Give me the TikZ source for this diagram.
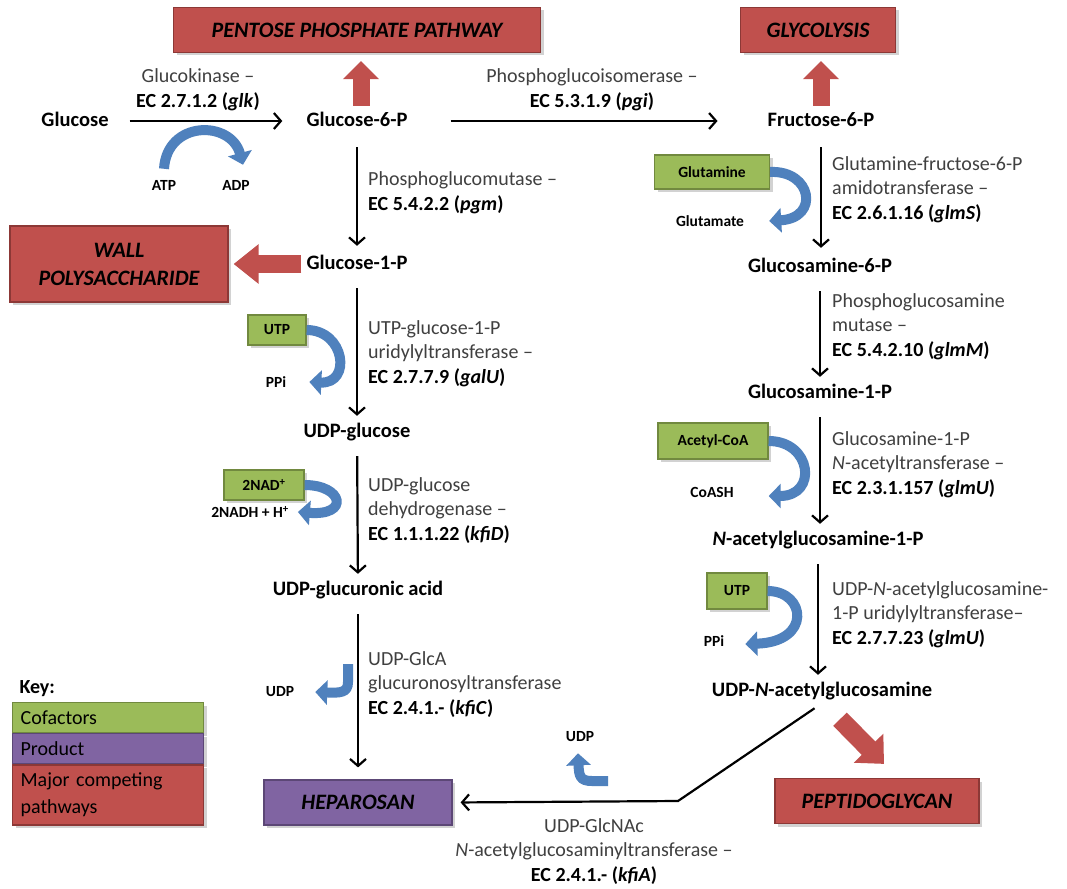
\documentclass[tikz,border=0pt]{standalone}
\usepackage{fontspec}
\setmainfont{Carlito}
\usepackage{tikz}
\usetikzlibrary{arrows.meta,shadows,calc,positioning}

\definecolor{pathred}{RGB}{192,80,77}
\definecolor{pathredline}{RGB}{140,56,54}
\definecolor{cofgreen}{RGB}{155,187,89}
\definecolor{cofgreenline}{RGB}{113,137,63}
\definecolor{prodpurple}{RGB}{128,100,162}
\definecolor{prodpurpleline}{RGB}{92,71,118}
\definecolor{flowblue}{RGB}{79,129,189}
\newcommand{\ecnum}[1]{\textbf{\color{black}#1}}

\begin{document}
\begin{tikzpicture}[x=1pt,y=-1pt,
  metab/.style={font=\fontsize{20.5}{24}\selectfont\bfseries, text height=15pt, text depth=5pt, inner sep=2pt},
  enzyme/.style={font=\fontsize{20}{24.5}\selectfont, text=black!75, align=left, inner sep=0pt, anchor=base west},
  enzymec/.style={enzyme, align=center, anchor=base},
  cofactor/.style={font=\fontsize{15.5}{18}\selectfont\bfseries, inner sep=1pt},
  boxshadow/.style={drop shadow={opacity=0.35, shadow xshift=3pt, shadow yshift=-3pt}},
  cofbox/.style={draw=cofgreenline, fill=cofgreen, line width=1.2pt, inner sep=0pt,
    font=\fontsize{15.5}{18}\selectfont\bfseries, boxshadow},
  pathbox/.style={draw=pathredline, fill=pathred, line width=1.2pt, inner sep=0pt, align=center,
    font=\fontsize{22}{28}\selectfont\bfseries\itshape, boxshadow},
  prodbox/.style={pathbox, draw=prodpurpleline, fill=prodpurple},
  keybox/.style={draw=#1line, fill=#1, line width=1.2pt, anchor=north west, inner xsep=8pt, inner ysep=0pt,
    text width=175pt, minimum width=191pt, align=left, font=\fontsize{20}{27}\selectfont, boxshadow},
  rxn/.style={-{Straight Barb[length=7pt,width=16pt]}, line width=2.2pt, shorten <=12pt, shorten >=4pt},
  bluearr/.style={draw=flowblue, line width=10pt, -{Triangle[length=12pt,width=24pt]}},
  redarr/.style={draw=pathred, line width=17pt, -{Triangle[length=18pt,width=35pt]}},
]
\useasboundingbox[fill=white] (0,0) rectangle (1067,888);

% competing pathways and product
\node[pathbox, minimum width=367pt, minimum height=45pt] (ppp) at (357,30) {PENTOSE PHOSPHATE PATHWAY};
\node[pathbox, minimum width=155pt, minimum height=45pt] (glyc) at (818,30) {GLYCOLYSIS};
\node[pathbox, minimum width=218pt, minimum height=76pt] (wall) at (119,264) {WALL\\POLYSACCHARIDE};
\node[prodbox, minimum width=188pt, minimum height=45pt] (hep) at (358,802.5) {HEPAROSAN};
\node[pathbox, minimum width=204pt, minimum height=45pt] (pepti) at (877,801) {PEPTIDOGLYCAN};

% metabolites
\node[metab] (glc) at (75,121) {Glucose};
\node[metab] (g6p) at (357,121) {Glucose-6-P};
\node[metab] (f6p) at (821,121) {Fructose-6-P};
\node[metab] (g1p) at (357,264) {Glucose-1-P};
\node[metab] (udpg) at (357,432) {UDP-glucose};
\node[metab] (udpga) at (358,590) {UDP-glucuronic acid};
\node[metab] (gn6p) at (820,267) {Glucosamine-6-P};
\node[metab] (gn1p) at (820,393) {Glucosamine-1-P};
\node[metab] (nag1p) at (818,540) {\textit{N}-acetylglucosamine-1-P};
\node[metab] (udpnag) at (822,691) {UDP-\textit{N}-acetylglucosamine};

% enzymes
\node[enzymec] (glk) at (198,107) {Glucokinase --\\\ecnum{EC 2.7.1.2 (\textit{glk})}};
\node[enzymec] (pgi) at (592,107) {Phosphoglucoisomerase --\\\ecnum{EC 5.3.1.9 (\textit{pgi})}};
\node[enzyme] (pgm) at (368,210) {Phosphoglucomutase --\\\ecnum{EC 5.4.2.2 (\textit{pgm})}};
\node[enzyme] (galU) at (368,383) {UTP-glucose-1-P\\uridylyltransferase --\\\ecnum{EC 2.7.7.9 (\textit{galU})}};
\node[enzyme] (kfiD) at (368,540) {UDP-glucose\\dehydrogenase --\\\ecnum{EC 1.1.1.22 (\textit{kfiD})}};
\node[enzyme] (kfiC) at (368,714) {UDP-GlcA\\glucuronosyltransferase\\\ecnum{EC 2.4.1.- (\textit{kfiC})}};
\node[enzyme] (glmS) at (832,219) {Glutamine-fructose-6-P\\amidotransferase --\\\ecnum{EC 2.6.1.16 (\textit{glmS})}};
\node[enzyme] (glmM) at (832,356) {Phosphoglucosamine\\mutase --\\\ecnum{EC 5.4.2.10 (\textit{glmM})}};
\node[enzyme] (glmUa) at (832,494) {Glucosamine-1-P\\\textit{N}-acetyltransferase --\\\ecnum{EC 2.3.1.157 (\textit{glmU})}};
\node[enzyme] (glmUb) at (832,644) {UDP-\textit{N}-acetylglucosamine-\\1-P uridylyltransferase--\\\ecnum{EC 2.7.7.23 (\textit{glmU})}};
\node[enzymec] (kfiA) at (594,881) {UDP-GlcNAc\\\textit{N}-acetylglucosaminyltransferase --\\\ecnum{EC 2.4.1.- (\textit{kfiA})}};

% cofactors
\node[cofbox, minimum width=115pt, minimum height=34pt] (glnbox) at (712,172) {Glutamine};
\node[cofbox, minimum width=58pt, minimum height=30pt] (utpA) at (277,330) {UTP};
\node[cofbox, minimum width=80pt, minimum height=30pt] (nadbox) at (264,485) {2NAD\textsuperscript{+}};
\node[cofbox, minimum width=110pt, minimum height=36pt] (acoabox) at (713,441) {Acetyl-CoA};
\node[cofbox, minimum width=60pt, minimum height=36pt] (utpB) at (737,591) {UTP};
\node[cofactor] (atp) at (164,185) {ATP};
\node[cofactor] (adp) at (236,185) {ADP};
\node[cofactor] (glu) at (710,221) {Glutamate};
\node[cofactor] (ppiA) at (276,382) {PPi};
\node[cofactor] (nadh) at (250,512) {2NADH + H\textsuperscript{+}};
\node[cofactor] (coash) at (712,492) {CoASH};
\node[cofactor] (ppiB) at (714,641) {PPi};
\node[cofactor] (udpC) at (280,692) {UDP};
\node[cofactor] (udpA) at (580,737) {UDP};

% reactions
\draw[rxn, shorten <=19pt, shorten >=22pt] (glc) -- (g6p);
\draw[rxn, shorten <=41pt, shorten >=48pt] (g6p) -- (f6p);
\draw[rxn, shorten <=14pt, shorten >=6pt] (g6p) -- (g1p);
\draw[rxn] (g1p) -- (udpg);
\draw[rxn] (udpg) -- (udpga);
\draw[rxn, shorten >=12pt] (udpga) -- (udpga |- hep.north);
\draw[rxn, shorten <=14pt, shorten >=7pt] (f6p) -- (f6p |- gn6p.north);
\draw[rxn] (gn6p) -- (gn6p |- gn1p.north);
\draw[rxn] (gn1p) -- (gn1p |- nag1p.north);
\draw[rxn] (nag1p) -- (nag1p |- udpnag.north);
\coordinate (kink) at (678,801);
\draw[rxn, shorten >=8pt, shorten <=9pt] (udpnag.south) -- (kink) -- (hep.east);

% routes to competing pathways
\draw[redarr, shorten <=3pt, shorten >=8pt] ([xshift=4pt]g6p.north) -- ([xshift=4pt]g6p.north |- ppp.south);
\draw[redarr, shorten <=3pt, shorten >=8pt] (f6p.north) -- (f6p.north |- glyc.south);
\draw[redarr, line width=18pt, -{Triangle[length=25pt,width=38pt]}, shorten <=3pt, shorten >=5pt] (g1p.west) -- (g1p.west -| wall.east);
\draw[redarr, line width=19pt, -{Triangle[length=22pt,width=40pt]}] ([xshift=18pt,yshift=-16pt]udpnag.south) -- ([xshift=7pt,yshift=14pt]pepti.north);

% cofactor turnover
\draw[bluearr] ([yshift=10pt]atp.north) .. controls (167,120) and (231,120) .. ([xshift=7pt,yshift=14pt]adp.north);
\draw[bluearr] (glnbox.east) .. controls (812,170) and (820,218) .. ([xshift=24pt]glu.east);
\draw[bluearr] (utpA.east) .. controls (345,330) and (352,384) .. ([xshift=22pt]ppiA.east);
\draw[bluearr] (nadbox.east) .. controls (343,485) and (350,516) .. ([xshift=8pt]nadh.east);
\draw[bluearr] (acoabox.east) .. controls (812,441) and (818,496) .. ([xshift=34pt,yshift=-4pt]coash.east);
\draw[bluearr] (utpB.east) .. controls (806,591) and (812,642) .. ([xshift=20pt,yshift=-3pt]ppiB.east);
\coordinate (hookC) at (348,664);
\draw[bluearr] (hookC) -- (348,682) .. controls (348,693) and (340,693) .. ([xshift=20pt]udpC.east);
\coordinate (hookA) at (608,781);
\draw[bluearr] (hookA) -- (592,781) .. controls (580,781) and (579,776) .. ([xshift=-2pt,yshift=-10pt]udpA.south);

% key
\node[font=\fontsize{20}{24}\selectfont\bfseries, anchor=west] (keyhead) at (16,689) {Key:};
\node[keybox=cofgreen, minimum height=30pt] (kcof) at (12,702) {Cofactors};
\node[keybox=prodpurple, minimum height=30pt, below=0pt of kcof.south west, anchor=north west] (kprod) {Product};
\node[keybox=pathred, minimum height=60pt, below=0pt of kprod.south west, anchor=north west] (kpath) {Major competing\\pathways};
\end{tikzpicture}
\end{document}
